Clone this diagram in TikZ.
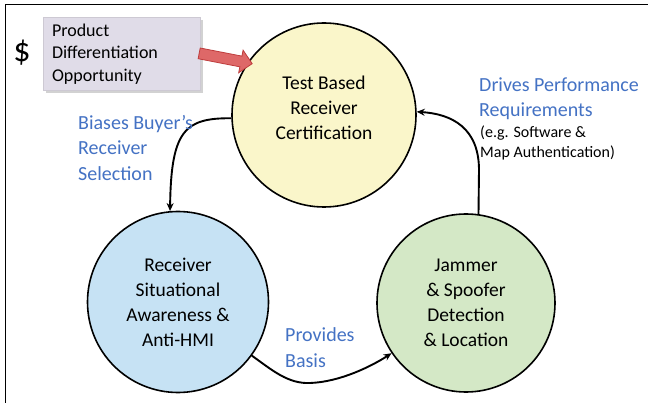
\documentclass[tikz,border=0pt]{standalone}
\usepackage{fontspec}
\setmainfont{Carlito}
\usetikzlibrary{arrows.meta,shadows,shapes.arrows}
\definecolor{lblue}{RGB}{68,114,196}
\definecolor{cyellow}{RGB}{250,246,202}
\definecolor{cblue}{RGB}{198,226,244}
\definecolor{cgreen}{RGB}{212,232,198}
\definecolor{boxcol}{RGB}{224,220,232}
\definecolor{redfill}{RGB}{222,104,104}
\definecolor{reddraw}{RGB}{190,60,60}
\begin{document}
\begin{tikzpicture}[x=1pt,y=-1pt,
  circ/.style={circle, draw=black, line width=1.6pt, inner sep=0pt, align=center,
    font=\fontsize{19.5}{25}\selectfont},
  ctext/.style={align=center, inner sep=0pt, font=\fontsize{19.5}{25}\selectfont},
  arr/.style={line width=1.9pt, -{Stealth[length=8pt,width=7pt]}},
  lab/.style={text=lblue, font=\fontsize{20}{25.5}\selectfont, align=left, inner sep=0pt},
  note/.style={text=black, font=\fontsize{16}{20}\selectfont, align=left, inner sep=0pt}
]
\useasboundingbox (0,0) rectangle (648,403);
\fill[white] (0,0) rectangle (648,403);
\draw[line width=1pt] (5,403) -- (5,5) -- (648,5);

% circles
\node[circ, fill=cyellow, minimum size=184pt] (top) at (324,115) {};
\node[ctext] (toptext) at (324,108) {Test Based\\Receiver\\Certification};
\node[circ, fill=cblue, minimum size=181pt] (left) at (178,302) {Receiver\\Situational\\Awareness \&\\Anti-HMI};
\node[circ, fill=cgreen, minimum size=178pt] (right) at (466,303) {Jammer\\\& Spoofer\\Detection\\\& Location};

% box
\node[fill=boxcol, draw=boxcol!80!gray, line width=0.4pt, drop shadow={shadow xshift=2.5pt, shadow yshift=-2.5pt, opacity=0.35},
  minimum width=157pt, minimum height=73pt, text width=139pt, inner xsep=9pt, align=left,
  font=\fontsize{18}{22.5}\selectfont] (box) at (121.5,54) {Product\\Differentiation\\Opportunity};
\node[font=\fontsize{34}{34}\selectfont, inner sep=0pt] (dollar) at (22,53) {\$};

% red arrow
\node[single arrow, fill=redfill, draw=reddraw, line width=0.8pt, inner sep=5pt,
  minimum height=54pt, minimum width=23pt, single arrow head extend=6pt, rotate=-11] (red) at (223,58) {};

% connectors
\draw[arr] (top.182) .. controls (185,118) and (171,130) .. (left.95);
\draw[arr] (right.82) -- (479,170) .. controls (479,128) and (452,114) .. (top.2);
\draw[arr] (left.-36) .. controls (272,370) and (288,384) .. (310,383)
  .. controls (340,382) and (372,366) .. (right.214);

% labels
\node[lab, anchor=west] (biases) at (78,148) {Biases Buyer’s\\Receiver\\Selection};
\node[lab, anchor=west] (drives) at (479,98.5) {Drives Performance\\Requirements};
\node[note, anchor=west] (eg) at (480,143) {(e.g. Software \&\\Map Authentication)};
\node[lab, anchor=west] (provides) at (285,347.5) {Provides\\Basis};
\end{tikzpicture}
\end{document}
